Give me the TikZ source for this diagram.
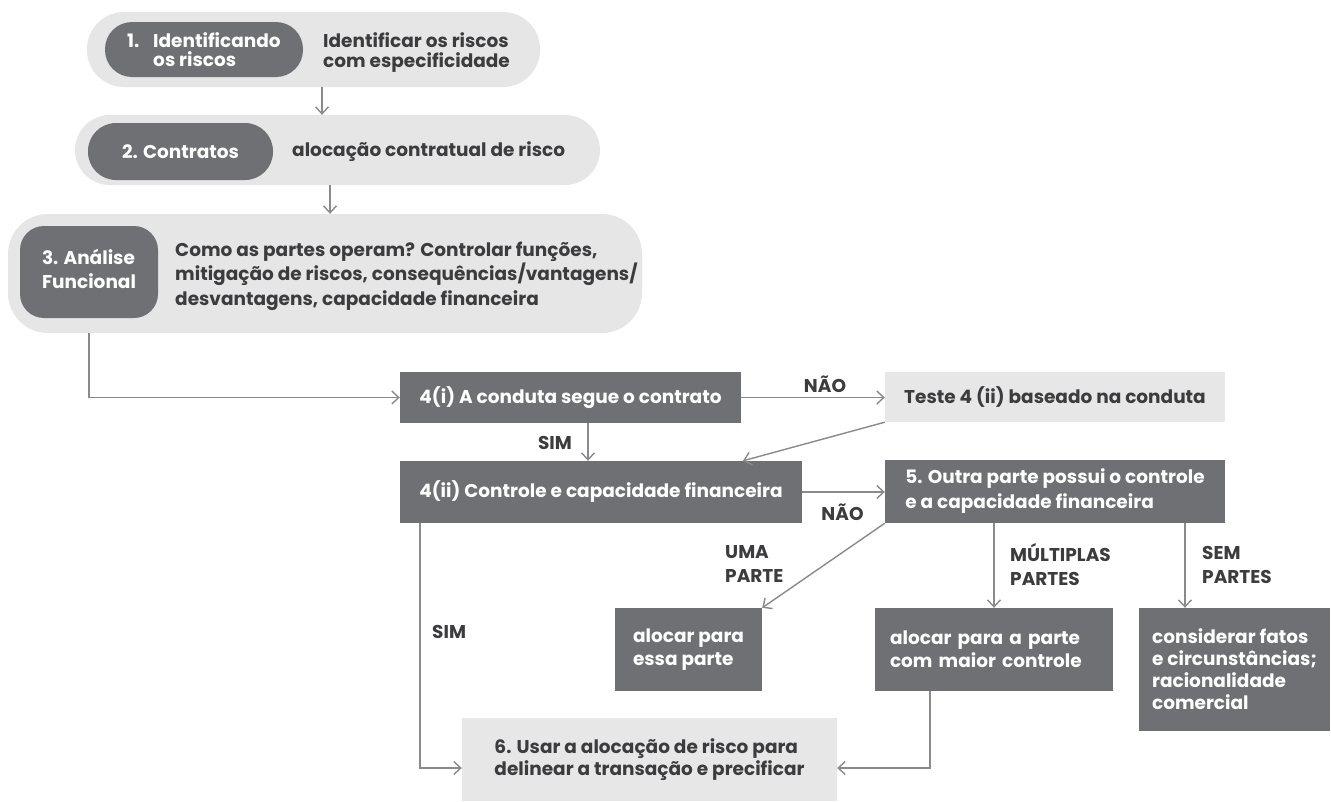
\documentclass[tikz,border=0pt]{standalone}
\usepackage{fontspec}
\setmainfont{Poppins}
\usetikzlibrary{arrows.meta}
\definecolor{boxdark}{RGB}{111,112,115}
\definecolor{boxlight}{RGB}{231,231,232}
\definecolor{pillbg}{RGB}{230,230,231}
\definecolor{inkdark}{RGB}{60,60,62}
\definecolor{linegray}{RGB}{138,138,140}
\newcommand{\fs}[1]{\fontsize{18.5}{#1}\selectfont\bfseries}
\begin{document}
\begin{tikzpicture}[x=1pt,y=-1pt,
  base/.style={font=\fs{23}, inner sep=0pt},
  pill/.style={base, fill=pillbg, rectangle},
  darkpill/.style={base, fill=boxdark, text=white, align=left},
  darkbox/.style={base, fill=boxdark, text=white, align=left},
  lightbox/.style={base, fill=boxlight, text=inkdark, align=left},
  plain/.style={base, text=inkdark, align=left},
  tag/.style={base, text=inkdark, align=left, font=\fs{24}},
  arr/.style={draw=linegray, line width=1.4pt, -{Straight Barb[length=7pt,width=13pt]}},
]
\fill[white] (0,0) rectangle (1331,801);
\useasboundingbox (0,0) rectangle (1331,801);

% step 1
\node[pill, minimum width=453pt, minimum height=75pt, rounded corners=37pt] (o1) at (313.5,49.5) {};
\node[darkpill, minimum width=198pt, minimum height=55pt, rounded corners=27pt, font=\fs{19}] (d1) at (204,49.5)
  {\makebox[26pt][l]{1.}Identificando\\\makebox[26pt]{}os riscos};
\node[plain, anchor=west, font=\fs{20.5}] (r1) at (323,52.5) {Identificar os riscos\\com especificidade};

% step 2
\node[pill, minimum width=525pt, minimum height=70pt, rounded corners=35pt] (o2) at (337.5,150) {};
\node[darkpill, minimum width=185pt, minimum height=57pt, rounded corners=28pt] (d2) at (180.5,151.5) {2. Contratos};
\node[plain, anchor=west] (r2) at (292,152) {alocação contratual de risco};

% step 3
\node[pill, minimum width=634pt, minimum height=119pt, rounded corners=40pt] (o3) at (325,273.5) {};
\node[darkpill, minimum width=138pt, minimum height=92pt, rounded corners=24pt] (d3) at (89,272) {};
\node[plain, text=white, font=\fs{24}] (d3t) at (89,268.5) {3. Análise\\Funcional};
\node[plain, anchor=west, font=\fs{24.5}] (r3) at (175,276)
  {Como as partes operam? Controlar funções,\\mitigação de riscos, consequências/vantagens/\\desvantagens, capacidade financeira};

% step 4 and 5
\node[darkbox, minimum width=341pt, minimum height=51pt] (b4i) at (570.5,397.5) {4(i) A conduta segue o contrato};
\node[lightbox, minimum width=340pt, minimum height=50pt] (bt) at (1055,397) {Teste 4 (ii) baseado na conduta};
\node[darkbox, minimum width=402pt, minimum height=62pt] (b4ii) at (601,492) {4(ii) Controle e capacidade financeira};
\node[darkbox, minimum width=340pt, minimum height=63pt, font=\fs{25}] (b5) at (1055,491.5)
  {5. Outra parte possui o controle\\e a capacidade financeira};

% outcomes
\node[darkbox, minimum width=147pt, minimum height=83pt] (ba) at (688.5,649.5) {alocar para\\essa parte};
\node[darkbox, minimum height=83pt, text width=208pt, inner xsep=15pt] (bm) at (994,649.5) {alocar para a parte\\com maior controle};
\node[darkbox, minimum width=191pt, minimum height=123pt, font=\fs{22}] (bc) at (1234.5,669.5)
  {considerar fatos\\e circunstâncias;\\racionalidade\\comercial};
\node[lightbox, minimum width=375pt, minimum height=83pt, font=\fs{22}] (b6) at (649.5,759.5)
  {6. Usar a alocação de risco para\\delinear a transação e precificar};

% guide coordinates for connectors
\coordinate (x12) at (322,0);
\coordinate (x23) at (330,0);
\coordinate (xsim) at (588,0);
\coordinate (xdiag) at (743,0);
\coordinate (xsem) at (1185,0);
\coordinate (xleft) at (420,0);
\coordinate (xmid) at (930,0);
\coordinate (ylow) at (0,768);

% connectors
\draw[arr] (o1.south -| x12) -- (o2.north -| x12);
\draw[arr] (o2.south -| x23) -- (o3.north -| x23);
\draw[arr] (o3.south -| d3) |- (b4i.west);
\draw[arr] (b4i.east) -- (b4i.east -| bt.west);
\draw[arr] (b4i.south -| xsim) -- (b4ii.north -| xsim);
\draw[arr] (bt.south west) -- (b4ii.north -| xdiag);
\draw[arr] (b4ii.east) -- (b4ii.east -| b5.west);
\draw[arr] (b5.south west) -- (ba.north east);
\draw[arr] (b5.south -| bm) -- (bm.north);
\draw[arr] (b5.south -| xsem) -- (bc.north -| xsem);
\draw[arr] (b4ii.south -| xleft) |- (b6.west |- ylow);
\draw[arr] (bm.south -| xmid) |- (b6.east |- ylow);

% branch labels
\node[tag] (l1) at (825,384) {NÃO};
\node[tag] (l2) at (842.5,512) {NÃO};
\node[tag] (l3) at (555,443) {SIM};
\node[tag, anchor=west] (l4) at (432,632) {SIM};
\node[tag, anchor=west] (l5) at (725,564) {UMA\\PARTE};
\node[tag, anchor=west] (l6) at (1010,564.5) {MÚLTIPLAS\\PARTES};
\node[tag, anchor=west] (l7) at (1202,564.5) {SEM\\PARTES};
\end{tikzpicture}
\end{document}
